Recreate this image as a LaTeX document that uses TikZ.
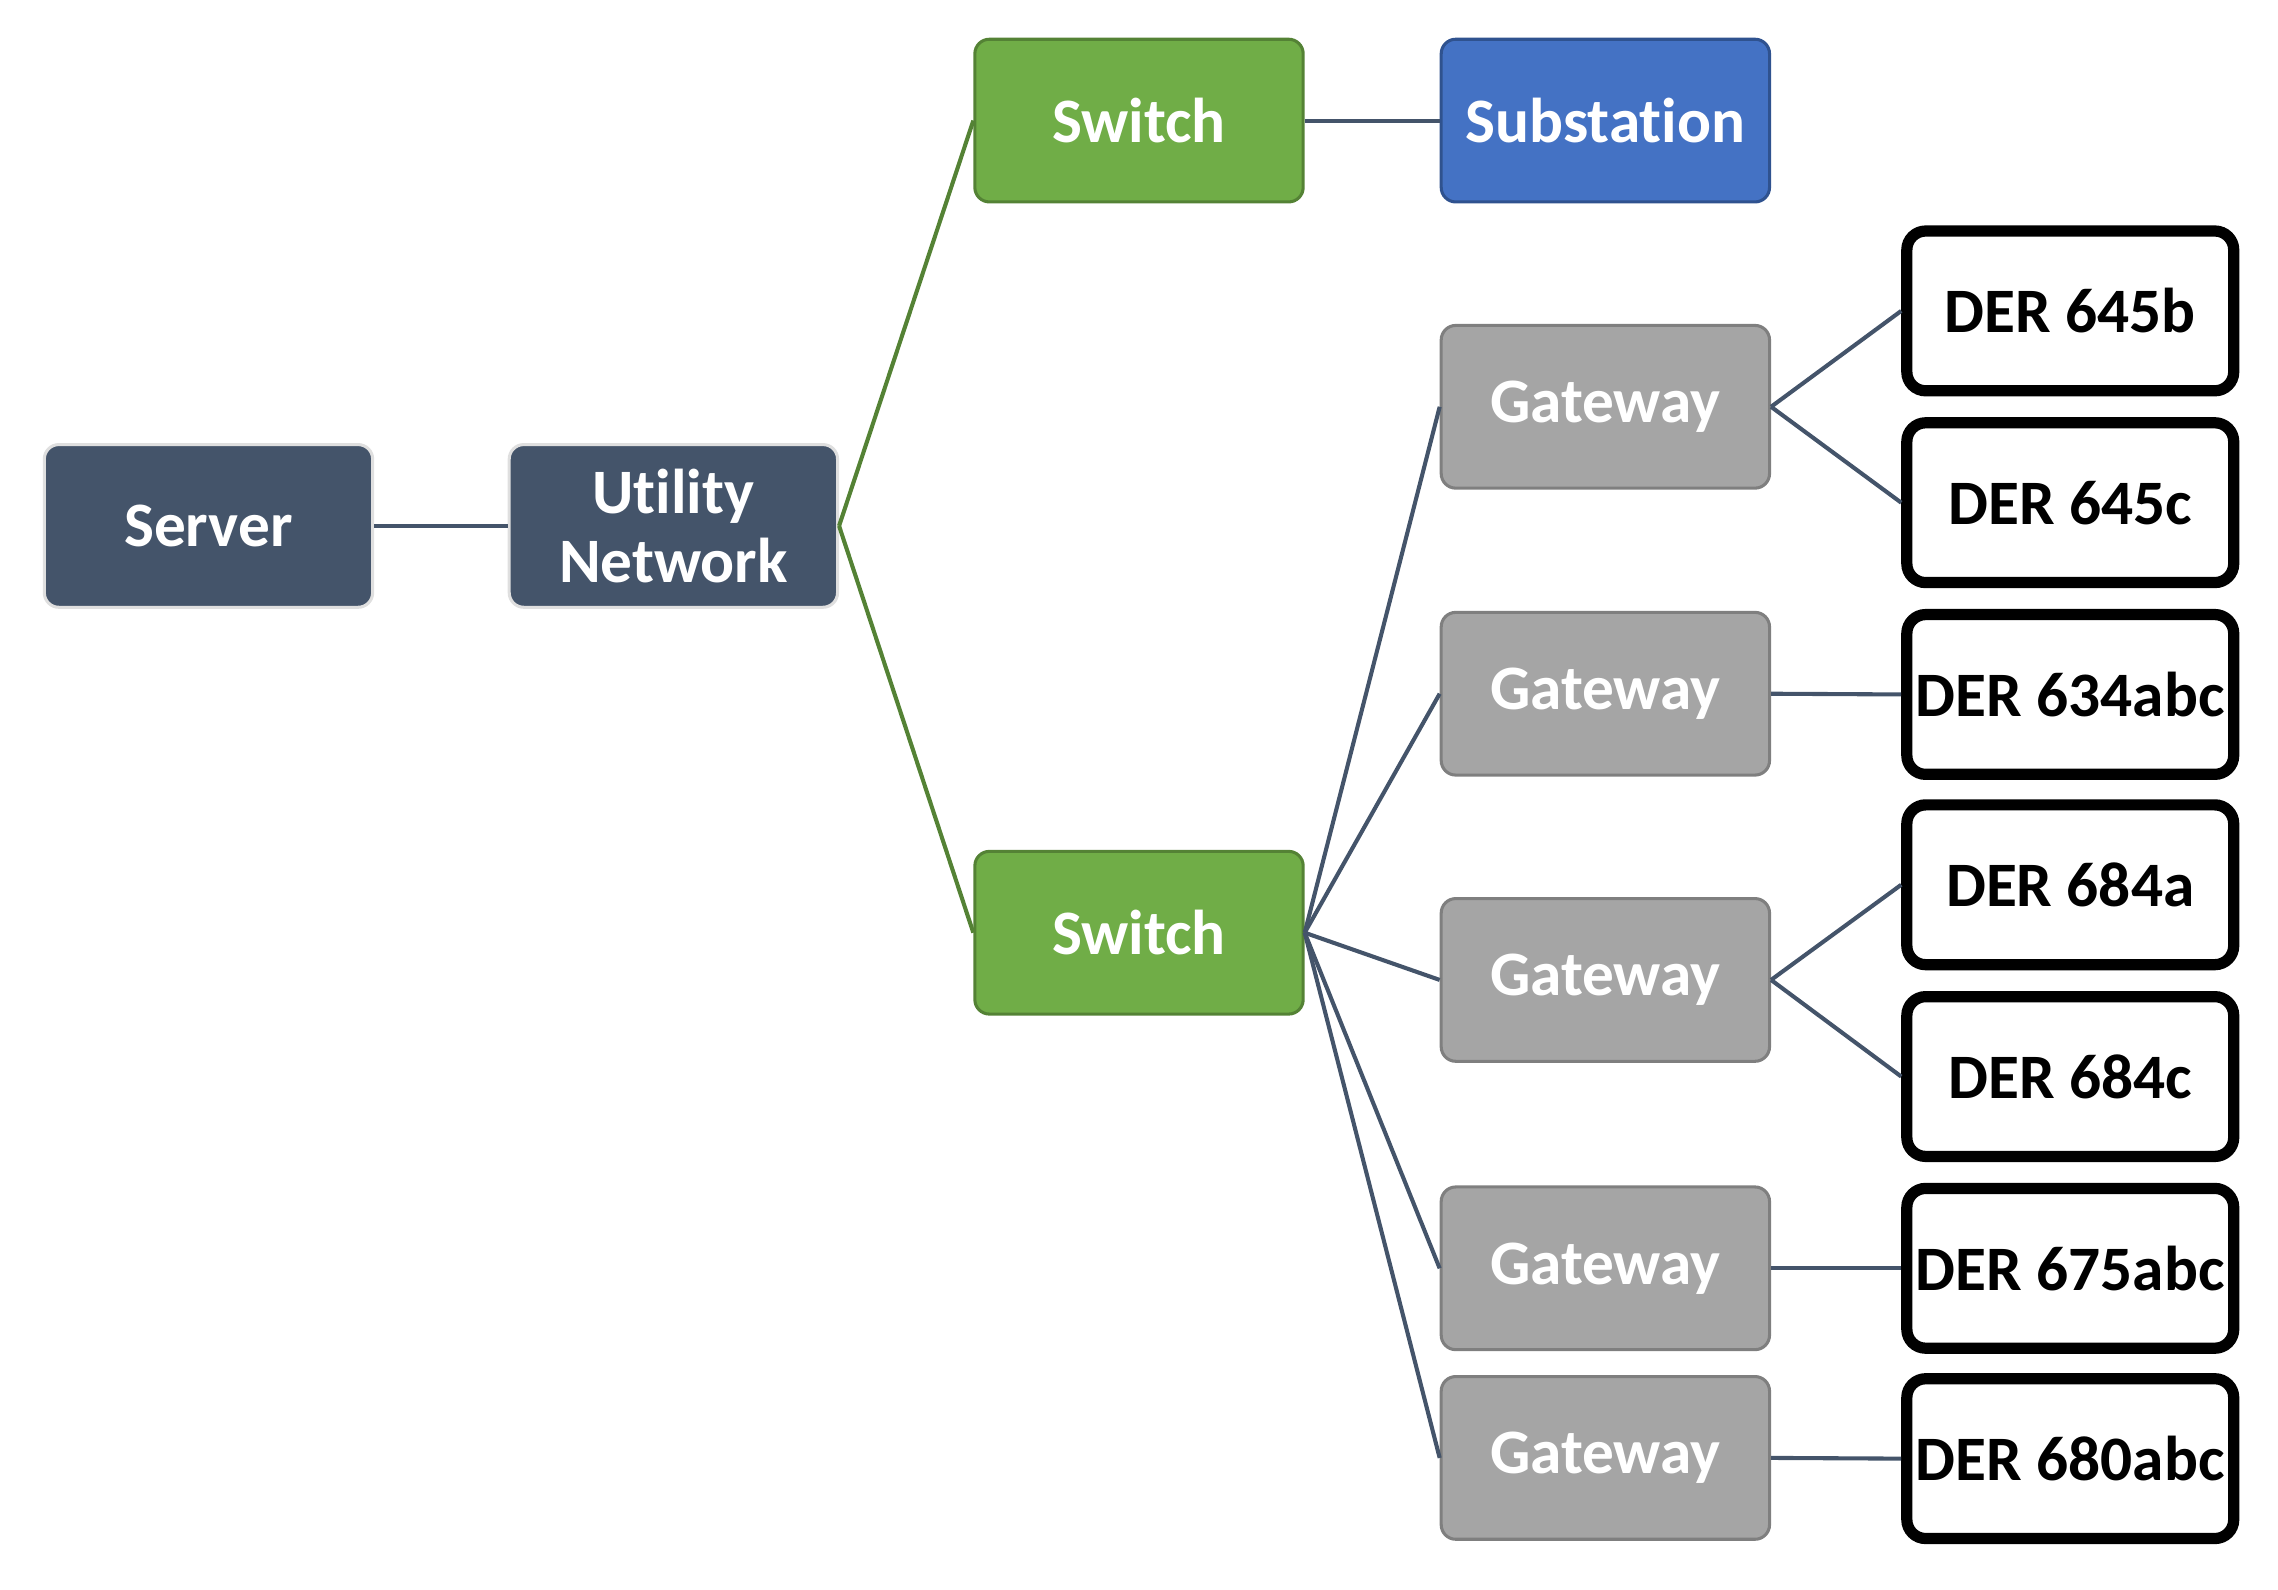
\documentclass[tikz,border=0pt]{standalone}
\usepackage{fontspec}
\setmainfont{Carlito}[Ligatures=NoCommon]
\usepackage{tikz}

\definecolor{slate}{HTML}{44546A}
\definecolor{swgreen}{HTML}{70AD47}
\definecolor{swgreendark}{HTML}{548235}
\definecolor{subblue}{HTML}{4472C4}
\definecolor{subbluedark}{HTML}{2F528F}
\definecolor{gwgray}{HTML}{A5A5A5}
\definecolor{gwgraydark}{HTML}{7F7F7F}

\begin{document}
\begin{tikzpicture}[
        box/.style={draw=#1, rectangle, rounded corners=1mm, minimum width=2.26cm, minimum height=1.12cm, inner sep=0pt, align=center, text=white, line width=0.6pt},
        server/.style={box=gray!25, fill=slate},
        switch/.style={box=swgreendark, fill=swgreen},
        substation/.style={box=subbluedark, fill=subblue},
        gateway/.style={box=gwgraydark, fill=gwgray},
        der/.style={draw=black, fill=white, rectangle, rounded corners=1.3mm, minimum width=2.25cm, minimum height=1.10cm, inner sep=0pt, align=center, text=black, line width=2.2pt},
        link/.style={draw=slate, line width=0.8pt},
        greenlink/.style={draw=swgreendark, line width=0.8pt},
        font=\fontsize{12.4}{13.6}\selectfont\bfseries
    ]
    \useasboundingbox (0,0) rectangle (15.68,-10.94);

    % Nodes
    \node[server] (server) at (1.435, -3.62) {Server};
    \node[server] (utility) at (4.635, -3.62) {Ut\kern0pt ility\\Network};
    \node[switch] (swtop) at (7.84, -0.83) {Switch};
    \node[substation] (substation) at (11.05, -0.83) {Substat\kern0pt ion};
    \node[switch] (swbot) at (7.84, -6.42) {Switch};

    \node[gateway] (gw1) at (11.05, -2.80) {Gateway};
    \node[gateway] (gw2) at (11.05, -4.775) {Gateway};
    \node[gateway] (gw3) at (11.05, -6.745) {Gateway};
    \node[gateway] (gw4) at (11.05, -8.73) {Gateway};
    \node[gateway] (gw5) at (11.05, -10.035) {Gateway};

    \node[der] (d645b) at (14.25, -2.14) {DER 645b};
    \node[der] (d645c) at (14.25, -3.46) {DER 645c};
    \node[der] (d634) at (14.25, -4.78) {DER 634abc};
    \node[der] (d684a) at (14.25, -6.09) {DER 684a};
    \node[der] (d684c) at (14.25, -7.41) {DER 684c};
    \node[der] (d675) at (14.25, -8.73) {DER 675abc};
    \node[der] (d680) at (14.25, -10.04) {DER 680abc};

    % Upper part
    \draw[link] (server.east) -- (utility.west);
    \draw[greenlink] (utility.east) -- (swtop.west);
    \draw[greenlink] (utility.east) -- (swbot.west);
    \draw[link] (swtop.east) -- (substation.west);

    % Switch to gateways
    \foreach \g in {gw1, gw2, gw3, gw4, gw5}
        \draw[link] (swbot.east) -- (\g.west);

    % Gateways to DERs
    \draw[link] (gw1.east) -- (d645b.west);
    \draw[link] (gw1.east) -- (d645c.west);
    \draw[link] (gw2.east) -- (d634.west);
    \draw[link] (gw3.east) -- (d684a.west);
    \draw[link] (gw3.east) -- (d684c.west);
    \draw[link] (gw4.east) -- (d675.west);
    \draw[link] (gw5.east) -- (d680.west);
    \end{tikzpicture}
\end{document}
